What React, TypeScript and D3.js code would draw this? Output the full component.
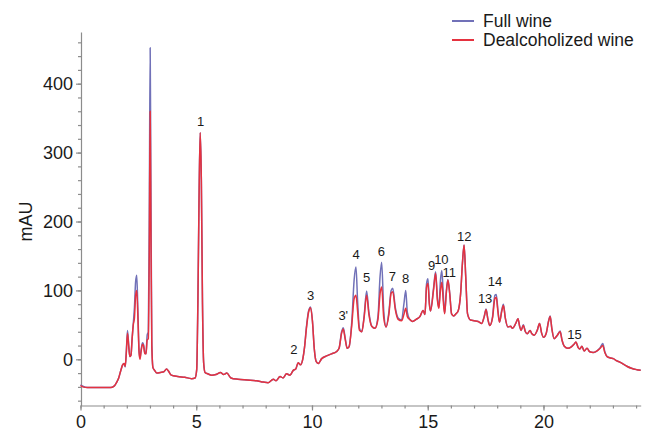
import { useEffect, useRef } from 'react';
import * as d3 from 'd3';

// retention time (min)
const times = [
  0.0, 0.1, 0.3, 1.3, 1.45, 1.55, 1.65, 1.75, 1.82, 1.88, 1.93, 1.98, 2.03, 2.08, 2.13, 2.18, 2.23, 2.28,
  2.33, 2.38, 2.43, 2.48, 2.53, 2.57, 2.62, 2.68, 2.72, 2.78, 2.83, 2.88, 2.93, 2.97, 3.01, 3.04, 3.08,
  3.13, 3.2, 3.3, 3.45, 3.6, 3.72, 3.8, 3.92, 4.2, 4.5, 4.8, 4.95, 5.02, 5.07, 5.12, 5.17, 5.22, 5.27,
  5.32, 5.38, 5.5, 5.67, 5.85, 6.05, 6.18, 6.32, 6.5, 6.8, 7.2, 7.6, 7.9, 8.1, 8.33, 8.45, 8.62, 8.75,
  8.9, 9.05, 9.19, 9.3, 9.4, 9.5, 9.6, 9.68, 9.76, 9.85, 9.94, 10.02, 10.1, 10.18, 10.27, 10.42, 10.63,
  10.85, 11.05, 11.17, 11.28, 11.35, 11.43, 11.52, 11.6, 11.72, 11.82, 11.9, 11.97, 12.05, 12.15, 12.25,
  12.36, 12.46, 12.58, 12.72, 12.85, 12.94, 13.01, 13.1, 13.2, 13.32, 13.42, 13.49, 13.6, 13.72, 13.87,
  13.97, 14.05, 14.12, 14.22, 14.35, 14.5, 14.66, 14.8, 14.88, 14.95, 15.01, 15.07, 15.12, 15.25, 15.34,
  15.42, 15.48, 15.55, 15.61, 15.67, 15.73, 15.8, 15.87, 15.95, 16.03, 16.12, 16.22, 16.32, 16.42, 16.5,
  16.57, 16.64, 16.72, 16.85, 17.0, 17.18, 17.33, 17.44, 17.52, 17.6, 17.68, 17.8, 17.9, 17.96, 18.03,
  18.1, 18.2, 18.27, 18.35, 18.46, 18.58, 18.66, 18.8, 18.9, 18.97, 19.03, 19.13, 19.22, 19.3, 19.42,
  19.5, 19.6, 19.73, 19.83, 19.92, 20.0, 20.12, 20.22, 20.29, 20.36, 20.46, 20.6, 20.72, 20.8, 20.9,
  21.05, 21.2, 21.32, 21.4, 21.5, 21.57, 21.66, 21.76, 21.88, 22.0, 22.15, 22.3, 22.45, 22.56, 22.65,
  22.75, 22.9, 23.02, 23.15, 23.3, 23.45, 23.6, 23.8, 24.03, 24.2,
];

// mAU, full wine
const fullWine = [
  -37, -39, -41, -41, -39, -34, -27, -15, -8, -6, -11, 12, 42, 22, 4, 6, 30, 52,
  75, 112, 122, 70, 12, 2, 14, 24, 22, 10, 8, 35, 40, 200, 452, 260, 25,
  -12, -16, -20, -19, -18, -14, -17, -23, -25, -26, -28, -27, -15, 80, 232, 329, 262, 82,
  -5, -19, -21, -23, -22, -19, -22, -20, -27, -29, -30, -31, -33, -34, -29, -31, -25, -27,
  -21, -23, -16, -14, -5, -8, 0, 18, 47, 70, 76, 56, 15, -3, -6, 1, 5,
  8, 11, 16, 40, 46, 32, 16, 18, 55, 115, 134, 85, 45, 40, 62,
  99, 68, 48, 45, 62, 120, 141, 70, 47, 68, 100, 103, 75, 60, 57,
  80, 100, 68, 58, 55, 58, 62, 71, 65, 110, 117, 82, 70, 103, 127,
  88, 75, 115, 129, 95, 67, 98, 116, 96, 66, 63, 66, 71, 95, 140,
  166, 122, 66, 57, 56, 55, 52, 62, 73, 58, 49, 62, 93, 94, 72,
  54, 72, 80, 60, 47, 48, 45, 52, 59, 48, 42, 50, 40, 37, 42,
  37, 35, 42, 52, 38, 32, 38, 56, 63, 45, 30, 35, 41, 28, 19,
  16, 18, 22, 25, 17, 15, 19, 12, 16, 11, 10, 12, 17, 23, 11,
  4, 2, 1, -2, -4, -7, -10, -13, -15, -16,
];

// mAU, dealcoholized wine
const dealcoholized = [
  -38, -40, -41, -41, -39, -34, -27, -15, -8, -6, -10, 10, 38, 20, 4, 6, 30, 50,
  60, 92, 100, 60, 10, 0, 12, 22, 20, 8, 8, 28, 30, 150, 360, 200, 20,
  -12, -16, -20, -19, -18, -14, -17, -23, -25, -26, -28, -27, -15, 80, 230, 329, 260, 80,
  -5, -19, -21, -23, -22, -19, -22, -20, -27, -29, -30, -31, -33, -34, -29, -31, -25, -27,
  -21, -23, -16, -14, -5, -8, 0, 18, 45, 68, 75, 55, 15, -3, -6, 1, 5,
  8, 11, 16, 38, 44, 30, 16, 18, 50, 88, 93, 70, 42, 40, 60,
  93, 65, 48, 45, 58, 95, 105, 60, 47, 65, 96, 98, 72, 58, 56,
  65, 74, 62, 58, 55, 58, 62, 71, 65, 105, 110, 80, 70, 100, 125,
  85, 74, 100, 112, 85, 66, 95, 115, 95, 66, 63, 66, 71, 95, 140,
  166, 120, 66, 57, 56, 55, 52, 62, 72, 58, 49, 60, 88, 90, 70,
  54, 70, 78, 60, 47, 48, 45, 52, 59, 48, 42, 49, 40, 37, 42,
  37, 35, 42, 52, 38, 32, 38, 55, 62, 45, 30, 35, 40, 28, 19,
  16, 18, 22, 25, 17, 15, 19, 12, 16, 11, 10, 12, 16, 20, 10,
  4, 2, 1, -2, -4, -7, -10, -13, -15, -16,
];

const peakLabels = ['1', '2', '3', "3'", '4', '5', '6', '7', '8', '9', '10', '11', '12', '13', '14', '15'];
const peakLabelTimes = [5.19, 9.22, 9.94, 11.35, 11.91, 12.36, 13.0, 13.47, 14.05, 15.17, 15.59, 15.93, 16.58, 17.48, 17.91, 21.34];
const peakLabelValues = [338, 8, 86, 57, 146, 112, 150, 114, 111, 129, 138, 119, 172, 82, 107, 30];

const seriesNames = ['Full wine', 'Dealcoholized wine'];
const seriesColors = ['#7171b8', '#e5323f'];

const W = 645;
const H = 431;
const FONT = '"Liberation Sans", Arial, Helvetica, sans-serif';

export default function App() {
  const ref = useRef<SVGSVGElement>(null);

  useEffect(() => {
    const svg = d3.select(ref.current);
    svg.selectAll('*').remove();

    const x = d3.scaleLinear().domain([0, 24.2]).range([80.5, 640.7]);
    const y = d3.scaleLinear().domain([-67, 475]).range([405.5, 32]);

    const axisColor = '#8c8c8c';

    // y axis: minor then major
    const yMinor = svg.append('g').attr('transform', 'translate(81,0)')
      .call(d3.axisLeft(y).tickValues(d3.range(-60, 475, 20)).tickSize(3).tickSizeOuter(0).tickFormat(() => ''));
    yMinor.selectAll('path,line').attr('stroke', axisColor).attr('stroke-width', 1.2);

    const yMajor = svg.append('g').attr('transform', 'translate(81,0)')
      .call(d3.axisLeft(y).tickValues([0, 100, 200, 300, 400]).tickSize(5).tickSizeOuter(0).tickPadding(3));
    yMajor.select('.domain').remove();
    yMajor.selectAll('line').attr('stroke', axisColor).attr('stroke-width', 1.2);
    yMajor.selectAll('text').attr('font-family', FONT).attr('font-size', 18).attr('fill', '#1a1a1a');

    // x axis
    const xMinor = svg.append('g').attr('transform', 'translate(0,405.5)')
      .call(d3.axisBottom(x).tickValues(d3.range(0, 25, 1)).tickSize(3).tickSizeOuter(0).tickFormat(() => ''));
    xMinor.selectAll('path,line').attr('stroke', axisColor).attr('stroke-width', 1.2);

    const xMajor = svg.append('g').attr('transform', 'translate(0,405.5)')
      .call(d3.axisBottom(x).tickValues([0, 5, 10, 15, 20]).tickSize(5).tickSizeOuter(0).tickPadding(5));
    xMajor.select('.domain').remove();
    xMajor.selectAll('line').attr('stroke', axisColor).attr('stroke-width', 1.2);
    xMajor.selectAll('text').attr('font-family', FONT).attr('font-size', 18).attr('fill', '#1a1a1a');

    svg.append('text')
      .attr('transform', `translate(32,${y(200)}) rotate(-90)`)
      .attr('text-anchor', 'middle')
      .attr('font-family', FONT).attr('font-size', 18).attr('fill', '#1a1a1a')
      .text('mAU');

    // traces
    const line = d3.line<number>()
      .x((_, i) => x(times[i]))
      .y(d => y(d))
      .curve(d3.curveMonotoneX);

    [fullWine, dealcoholized].forEach((vals, i) => {
      svg.append('path')
        .attr('d', line(vals))
        .attr('fill', 'none')
        .attr('stroke', seriesColors[i])
        .attr('stroke-width', 1.5)
        .attr('stroke-linejoin', 'round');
    });

    // peak numbers
    svg.append('g').selectAll('text')
      .data(peakLabels)
      .enter()
      .append('text')
      .attr('x', (_, i) => x(peakLabelTimes[i]))
      .attr('y', (_, i) => y(peakLabelValues[i]))
      .attr('text-anchor', 'middle')
      .attr('font-family', FONT).attr('font-size', 13).attr('fill', '#1a1a1a')
      .text(d => d);

    // legend
    const legend = svg.append('g').attr('transform', 'translate(452,21)');
    seriesNames.forEach((name, i) => {
      legend.append('line')
        .attr('x1', 0).attr('x2', 22)
        .attr('y1', i * 19).attr('y2', i * 19)
        .attr('stroke', seriesColors[i]).attr('stroke-width', 2);
      legend.append('text')
        .attr('x', 31).attr('y', i * 19)
        .attr('dy', '0.35em')
        .attr('font-family', FONT).attr('font-size', 17.5).attr('fill', '#1a1a1a')
        .text(name);
    });
  }, []);

  return (
    <svg
      ref={ref}
      width={W}
      height={H}
      style={{ position: 'absolute', left: 0, top: 0, display: 'block', background: '#fff' }}
    />
  );
}
